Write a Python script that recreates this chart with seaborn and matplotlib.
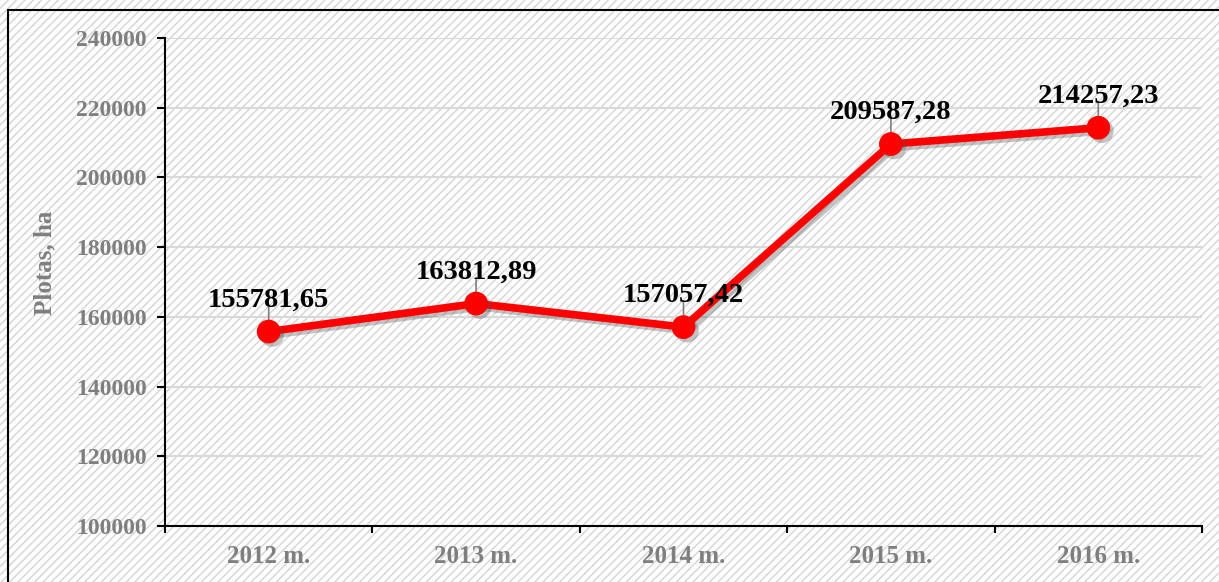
import matplotlib
matplotlib.use("Agg")
import matplotlib.pyplot as plt
import matplotlib.patheffects as pe
from matplotlib.patches import Rectangle
from matplotlib.ticker import FixedLocator
import seaborn as sns
import pandas as pd

# Data
years = ["2012 m.", "2013 m.", "2014 m.", "2015 m.", "2016 m."]
area_ha = [155781.65, 163812.89, 157057.42, 209587.28, 214257.23]
value_labels = ["155781,65", "163812,89", "157057,42", "209587,28", "214257,23"]
y_ticks = [100000, 120000, 140000, 160000, 180000, 200000, 220000, 240000]

sns.set_theme(style="white")
plt.rcParams["font.family"] = ["Liberation Serif", "DejaVu Serif"]
plt.rcParams["hatch.color"] = "#d4d4d4"
plt.rcParams["hatch.linewidth"] = 1.0

W, H = 1219, 582
fig = plt.figure(figsize=(W / 100, H / 100), dpi=100)
fig.patch.set_facecolor("white")

# Diagonal hatched background over the whole figure
fig.patches.append(Rectangle((0, 0), 1, 1, transform=fig.transFigure,
                             facecolor="white", edgecolor="#d4d4d4",
                             hatch="////", linewidth=0, zorder=-10))
# Outer frame
fig.patches.append(Rectangle((8 / W, -0.2), 2, 1.2 - 10 / H,
                             transform=fig.transFigure, facecolor="none",
                             edgecolor="black", linewidth=1.5, zorder=-5))

ax = fig.add_axes([165 / W, 1 - 526 / H, (1202 - 165) / W, (526 - 38) / H])
ax.set_facecolor("none")

df = pd.DataFrame({"year": years, "area": area_ha})
shadow = [pe.SimpleLineShadow(offset=(2.5, -2.5), shadow_color="#555555", alpha=0.35),
          pe.Normal()]
sns.pointplot(data=df, x="year", y="area", color="#ff0000", markers="o",
              markersize=13, linewidth=5.5, errorbar=None, ax=ax,
              path_effects=shadow, zorder=4)

ax.set_xlim(-0.5, len(years) - 0.5)
ax.set_ylim(y_ticks[0], y_ticks[-1])
ax.set_yticks(y_ticks)
ax.set_yticklabels([str(v) for v in y_ticks])

# Category labels at centres, tick marks at category boundaries
ax.set_xticks(range(len(years)))
ax.set_xticklabels(years)
ax.xaxis.set_minor_locator(FixedLocator([i - 0.5 for i in range(len(years) + 1)]))
ax.tick_params(axis="x", which="major", length=0, pad=14, labelsize=18,
               labelcolor="#7f7f7f")
ax.tick_params(axis="x", which="minor", bottom=True, length=5, width=1.5,
               color="black", direction="out")
ax.tick_params(axis="y", which="major", left=True, length=6, width=1.5,
               color="black", direction="out", pad=7, labelsize=17,
               labelcolor="#7f7f7f")
for lab in ax.get_xticklabels() + ax.get_yticklabels():
    lab.set_fontweight("bold")

ax.yaxis.grid(True, color="#d9d9d9", linewidth=1.5)
ax.set_axisbelow(True)
for side in ["top", "right"]:
    ax.spines[side].set_visible(False)
for side in ["left", "bottom"]:
    ax.spines[side].set_color("black")
    ax.spines[side].set_linewidth(1.5)

ax.set_xlabel("")
ax.set_ylabel("Plotas, ha", fontsize=18, fontweight="bold", color="#7f7f7f")
ax.yaxis.set_label_coords(-0.105, 0.54)

# Value labels with leader lines
for i, (v, txt) in enumerate(zip(area_ha, value_labels)):
    ax.annotate("", xy=(i, v), xytext=(0, 26), textcoords="offset pixels",
                arrowprops=dict(arrowstyle="-", color="#7f7f7f", lw=1.2,
                                shrinkA=0, shrinkB=0), zorder=2)
    ax.annotate(txt, xy=(i, v), xytext=(0, 25), textcoords="offset pixels",
                ha="center", va="baseline", fontsize=20.5, fontweight="bold",
                color="black", zorder=6)

fig.savefig("out.png", dpi=100)
